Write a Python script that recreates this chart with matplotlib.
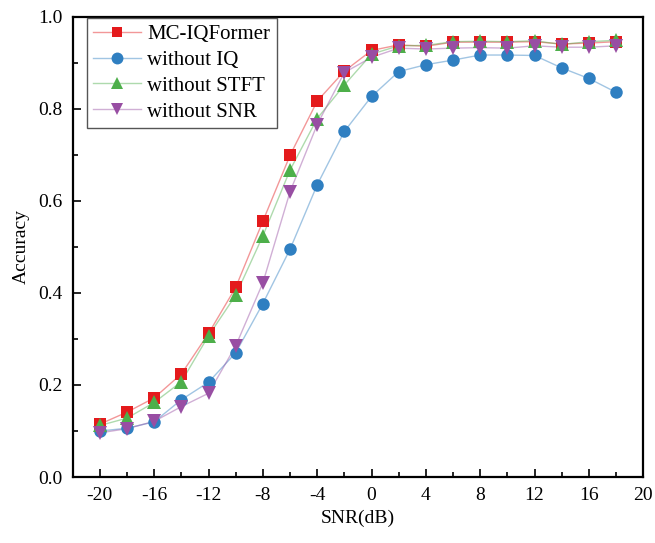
import matplotlib
matplotlib.use("Agg")
import matplotlib.pyplot as plt
from matplotlib.ticker import MultipleLocator, FormatStrFormatter
from matplotlib.lines import Line2D
from matplotlib.colors import to_rgba

snr = [-20, -18, -16, -14, -12, -10, -8, -6, -4, -2, 0, 2, 4, 6, 8, 10, 12, 14, 16, 18]
mc_iqformer = [0.115, 0.141, 0.172, 0.224, 0.312, 0.412, 0.556, 0.699, 0.817, 0.882, 0.927,
               0.939, 0.936, 0.945, 0.945, 0.945, 0.946, 0.941, 0.943, 0.946]
without_iq = [0.100, 0.106, 0.120, 0.168, 0.206, 0.270, 0.377, 0.495, 0.635, 0.751, 0.827,
              0.881, 0.896, 0.906, 0.917, 0.917, 0.916, 0.889, 0.866, 0.836]
without_stft = [0.112, 0.128, 0.162, 0.207, 0.307, 0.395, 0.524, 0.667, 0.779, 0.852, 0.919,
                0.937, 0.938, 0.946, 0.947, 0.946, 0.948, 0.940, 0.946, 0.949]
without_snr = [0.096, 0.105, 0.121, 0.153, 0.182, 0.285, 0.422, 0.620, 0.766, 0.879, 0.912,
               0.932, 0.930, 0.932, 0.933, 0.932, 0.937, 0.934, 0.934, 0.937]

series = [
    ("MC-IQFormer", mc_iqformer, "#E41A1C", "s", 8),
    ("without IQ", without_iq, "#2F7FC1", "o", 9),
    ("without STFT", without_stft, "#4DAF4A", "^", 9.5),
    ("without SNR", without_snr, "#984EA3", "v", 9.5),
]

plt.rcParams['font.family'] = ['Liberation Serif', 'DejaVu Serif']
plt.rcParams['axes.unicode_minus'] = False

fig = plt.figure(figsize=(6.55, 5.43), dpi=100)
ax = fig.add_axes([0.111, 0.1215, 0.871, 0.8475])

for label, vals, color, marker, ms in series:
    ax.plot(snr, vals, color=color, alpha=0.45, lw=1.0, zorder=2)
    ax.plot(snr, vals, color=color, lw=0, marker=marker, ms=ms,
            markeredgewidth=0, zorder=3)

handles = [Line2D([0], [0], color=to_rgba(c, 0.45), lw=1.0, marker=m, ms=ms * 0.95,
                  markerfacecolor=c, markeredgewidth=0)
           for _, _, c, m, ms in series]
leg = ax.legend(handles, [s[0] for s in series], loc="upper left",
                bbox_to_anchor=(0.025, 0.997), fontsize=15,
                frameon=True, fancybox=False, edgecolor="#555555", framealpha=1,
                borderaxespad=0, handlelength=2.3, handletextpad=0.3,
                labelspacing=0.3, borderpad=0.3)
leg.get_frame().set_linewidth(1.0)

ax.set_xlim(-22, 20)
ax.set_ylim(0, 1.0)
ax.set_xticks([-20, -16, -12, -8, -4, 0, 4, 8, 12, 16, 20])
ax.xaxis.set_minor_locator(MultipleLocator(2))
ax.yaxis.set_major_locator(MultipleLocator(0.2))
ax.yaxis.set_minor_locator(MultipleLocator(0.1))
ax.yaxis.set_major_formatter(FormatStrFormatter('%.1f'))

ax.tick_params(which='major', direction='in', length=6, width=1.2, labelsize=14,
               top=False, right=False, pad=7)
ax.tick_params(which='minor', direction='in', length=3.5, width=1.2, top=False, right=False)

for sp in ax.spines.values():
    sp.set_linewidth(1.6)

ax.set_xlabel("SNR(dB)", fontsize=14, labelpad=4)
ax.set_ylabel("Accuracy", fontsize=14, labelpad=6)

fig.savefig("out.png", dpi=100)
